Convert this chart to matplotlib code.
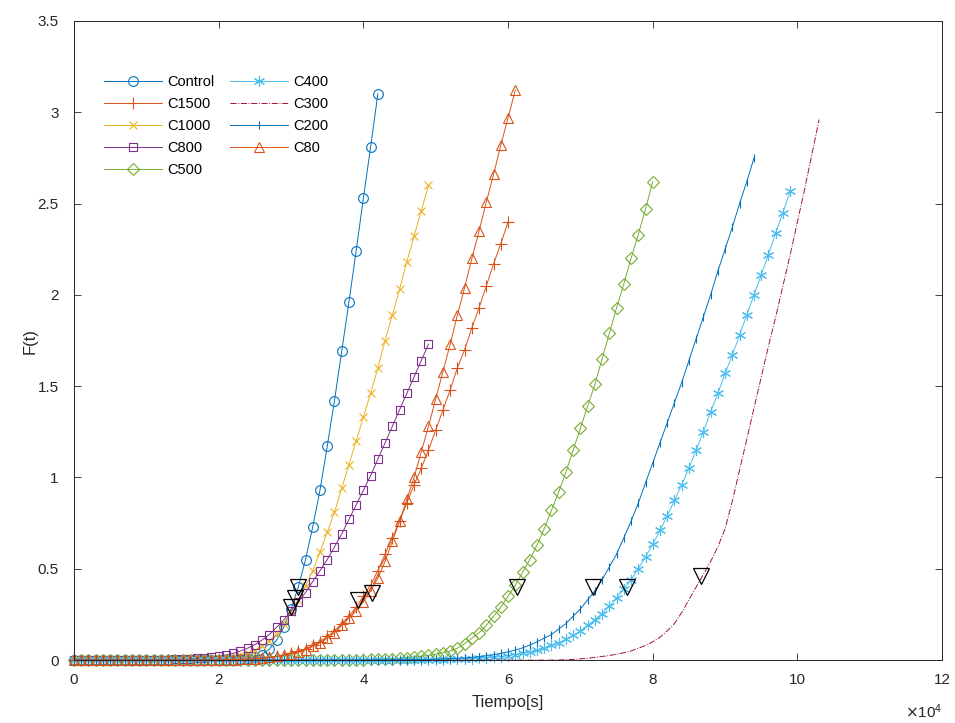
import matplotlib
matplotlib.use('Agg')
import matplotlib.pyplot as plt
import numpy as np
from matplotlib.ticker import FormatStrFormatter, FuncFormatter

plt.rcParams['font.family'] = ['Liberation Sans', 'DejaVu Sans']

PASO = 1000  # s entre muestras

# F(t) de cada ensayo, una muestra cada 1000 s desde t = 0
control = [
    0, 0, 0, 0, 0, 0, 0, 0, 0, 0,
    0, 0, 0, 0, 0, 0, 0, 0, 0, 0.001,
    0.001, 0.002, 0.003, 0.005, 0.009, 0.016, 0.03, 0.06, 0.11, 0.18,
    0.28, 0.40, 0.55, 0.73, 0.93, 1.17, 1.42, 1.69, 1.96, 2.24,
    2.53, 2.81, 3.10,
]
c1500 = [
    0, 0, 0, 0, 0, 0, 0, 0, 0, 0,
    0, 0, 0, 0, 0, 0, 0, 0, 0, 0.001,
    0.002, 0.003, 0.004, 0.005, 0.007, 0.009, 0.012, 0.016, 0.021, 0.028,
    0.037, 0.048, 0.062, 0.08, 0.10, 0.13, 0.16, 0.20, 0.24, 0.29,
    0.35, 0.41, 0.49, 0.58, 0.67, 0.76, 0.86, 0.96, 1.05, 1.15,
    1.26, 1.37, 1.48, 1.60, 1.70, 1.82, 1.93, 2.05, 2.17, 2.28,
    2.40,
]
c1000 = [
    0, 0, 0, 0, 0, 0, 0, 0, 0, 0,
    0, 0, 0, 0, 0, 0.001, 0.002, 0.003, 0.005, 0.007,
    0.009, 0.013, 0.019, 0.027, 0.038, 0.053, 0.075, 0.105, 0.145, 0.20,
    0.265, 0.33, 0.405, 0.49, 0.59, 0.70, 0.81, 0.94, 1.07, 1.20,
    1.33, 1.46, 1.60, 1.75, 1.89, 2.03, 2.18, 2.32, 2.46, 2.60,
]
c800 = [
    0, 0, 0, 0, 0, 0, 0, 0, 0, 0,
    0, 0.001, 0.002, 0.003, 0.004, 0.005, 0.007, 0.009, 0.012, 0.016,
    0.021, 0.028, 0.037, 0.05, 0.065, 0.085, 0.11, 0.14, 0.18, 0.22,
    0.27, 0.32, 0.37, 0.43, 0.49, 0.55, 0.62, 0.69, 0.77, 0.85,
    0.93, 1.01, 1.10, 1.19, 1.28, 1.37, 1.46, 1.55, 1.64, 1.73,
]
c500 = [
    0, 0, 0, 0, 0, 0, 0, 0, 0, 0,
    0, 0, 0, 0, 0, 0, 0, 0, 0, 0,
    0, 0, 0, 0, 0, 0, 0, 0, 0, 0,
    0, 0, 0, 0, 0, 0.001, 0.001, 0.002, 0.002, 0.003,
    0.003, 0.004, 0.005, 0.006, 0.008, 0.010, 0.013, 0.017, 0.021, 0.026,
    0.032, 0.04, 0.05, 0.065, 0.09, 0.12, 0.15, 0.19, 0.24, 0.29,
    0.35, 0.41, 0.48, 0.55, 0.63, 0.72, 0.82, 0.92, 1.03, 1.15,
    1.27, 1.39, 1.51, 1.65, 1.79, 1.93, 2.06, 2.20, 2.33, 2.47,
    2.62,
]
c400 = [
    0, 0, 0, 0, 0, 0, 0, 0, 0, 0,
    0, 0, 0, 0, 0, 0, 0, 0, 0, 0,
    0, 0, 0, 0, 0, 0, 0, 0, 0, 0,
    0, 0, 0, 0, 0, 0, 0, 0, 0, 0,
    0, 0, 0, 0, 0, 0.001, 0.001, 0.001, 0.001, 0.002,
    0.002, 0.003, 0.004, 0.005, 0.006, 0.008, 0.010, 0.012, 0.015, 0.019,
    0.024, 0.03, 0.037, 0.045, 0.055, 0.067, 0.08, 0.095, 0.115, 0.135,
    0.16, 0.19, 0.22, 0.255, 0.295, 0.34, 0.39, 0.44, 0.50, 0.565,
    0.635, 0.71, 0.79, 0.875, 0.96, 1.05, 1.15, 1.25, 1.36, 1.46,
    1.57, 1.67, 1.78, 1.89, 2.00, 2.11, 2.22, 2.34, 2.45, 2.57,
]
c300 = [
    0, 0, 0, 0, 0, 0, 0, 0, 0, 0,
    0, 0, 0, 0, 0, 0, 0, 0, 0, 0,
    0, 0, 0, 0, 0, 0, 0, 0, 0, 0,
    0, 0, 0, 0, 0, 0, 0, 0, 0, 0,
    0, 0, 0, 0, 0, 0, 0, 0, 0, 0,
    0, 0, 0, 0, 0, 0, 0, 0, 0, 0,
    0, 0, 0, 0, 0, 0, 0, 0.001, 0.002, 0.004,
    0.007, 0.01, 0.015, 0.02, 0.025, 0.032, 0.04, 0.05, 0.065, 0.08,
    0.10, 0.125, 0.16, 0.20, 0.26, 0.33, 0.40, 0.47, 0.54, 0.62,
    0.72, 0.87, 1.04, 1.21, 1.38, 1.55, 1.72, 1.88, 2.05, 2.22,
    2.40, 2.58, 2.77, 2.96,
]
c200 = [
    0, 0, 0, 0, 0, 0, 0, 0, 0, 0,
    0, 0, 0, 0, 0, 0, 0, 0, 0, 0,
    0, 0, 0, 0, 0, 0, 0, 0, 0, 0,
    0, 0, 0, 0, 0, 0, 0, 0, 0, 0,
    0, 0.001, 0.001, 0.001, 0.001, 0.002, 0.002, 0.003, 0.003, 0.004,
    0.005, 0.006, 0.008, 0.010, 0.012, 0.015, 0.019, 0.024, 0.03, 0.037,
    0.045, 0.055, 0.067, 0.082, 0.10, 0.12, 0.14, 0.17, 0.20, 0.24,
    0.28, 0.33, 0.38, 0.44, 0.51, 0.58, 0.67, 0.76, 0.86, 0.97,
    1.08, 1.19, 1.30, 1.41, 1.52, 1.64, 1.76, 1.88, 2.00, 2.13,
    2.25, 2.37, 2.50, 2.62, 2.75,
]
c80 = [
    0, 0, 0, 0, 0, 0, 0, 0, 0, 0,
    0, 0, 0, 0, 0, 0, 0, 0, 0, 0,
    0.001, 0.002, 0.003, 0.004, 0.006, 0.008, 0.011, 0.015, 0.02, 0.027,
    0.035, 0.045, 0.058, 0.075, 0.095, 0.12, 0.15, 0.19, 0.23, 0.27,
    0.32, 0.38, 0.45, 0.54, 0.65, 0.76, 0.88, 1.00, 1.14, 1.28,
    1.43, 1.58, 1.73, 1.89, 2.04, 2.20, 2.35, 2.51, 2.66, 2.82,
    2.97, 3.12,
]

# puntos marcados con triangulo en cada curva
t_marca = [31000, 30600, 30000, 39300, 41200, 61300, 71700, 76500, 86700]
f_marca = [0.40, 0.34, 0.29, 0.33, 0.37, 0.40, 0.40, 0.40, 0.46]

AZUL = '#0072BD'
NARANJA = '#D95319'
AMARILLO = '#EDB120'
MORADO = '#7E2F8E'
VERDE = '#77AC30'
CELESTE = '#4DBEEE'
GRANATE = '#A2142F'
GRIS = '#262626'

series = [
    ('Control', control, AZUL, 'o', 7, '-'),
    ('C1500', c1500, NARANJA, '+', 8, '-'),
    ('C1000', c1000, AMARILLO, 'x', 6, '-'),
    ('C800', c800, MORADO, 's', 6, '-'),
    ('C500', c500, VERDE, 'D', 6.5, '-'),
    ('C400', c400, CELESTE, (6, 2, 0), 8, '-'),
    ('C300', c300, GRANATE, 'None', 0, '-.'),
    ('C200', c200, AZUL, '|', 6, '-'),
    ('C80', c80, NARANJA, '^', 7, '-'),
]

fig = plt.figure(figsize=(9.55, 7.23), dpi=100)
ax = fig.add_axes([0.0775, 0.087, 0.909, 0.884])

for nombre, f, color, marca, tam, estilo in series:
    t = np.arange(len(f)) * PASO
    ax.plot(t, f, color=color, linestyle=estilo, linewidth=0.7,
            marker=marca, markersize=tam, markerfacecolor='none',
            markeredgewidth=0.8, label=nombre, clip_on=False)

ax.plot(t_marca, f_marca, linestyle='none', marker='v', markersize=11,
        markerfacecolor='none', markeredgecolor='black',
        markeredgewidth=0.9, label='_nolegend_')

ax.set_xlim(0, 120000)
ax.set_ylim(0, 3.5)
ax.set_xticks(np.arange(0, 120001, 20000))
ax.set_yticks(np.arange(0, 3.51, 0.5))
ax.xaxis.set_major_formatter(FuncFormatter(lambda v, pos: f'{v / 1e4:g}'))
ax.yaxis.set_major_formatter(FormatStrFormatter('%g'))
ax.text(1.0, -0.081, r'$\times\mathregular{10^{4}}$', transform=ax.transAxes,
        ha='right', va='center', fontsize=11, color=GRIS)

ax.tick_params(direction='in', top=True, right=True, length=5, width=0.6,
               colors=GRIS, labelsize=11)
ax.tick_params(axis='x', pad=9)
ax.tick_params(axis='y', pad=11)
for lado in ax.spines.values():
    lado.set_color(GRIS)
    lado.set_linewidth(0.7)

ax.set_xlabel('Tiempo[s]', fontsize=12, color=GRIS, labelpad=6)
ax.set_ylabel('F(t)', fontsize=12, color=GRIS, labelpad=0)

ax.legend(loc='upper left', bbox_to_anchor=(0.034, 0.915), ncol=2,
          frameon=False, fontsize=10.5, handlelength=4.0, handletextpad=0.4,
          columnspacing=1.0, labelspacing=0.55, borderpad=0, borderaxespad=0)

plt.savefig('out.png', dpi=100)
plt.close()
